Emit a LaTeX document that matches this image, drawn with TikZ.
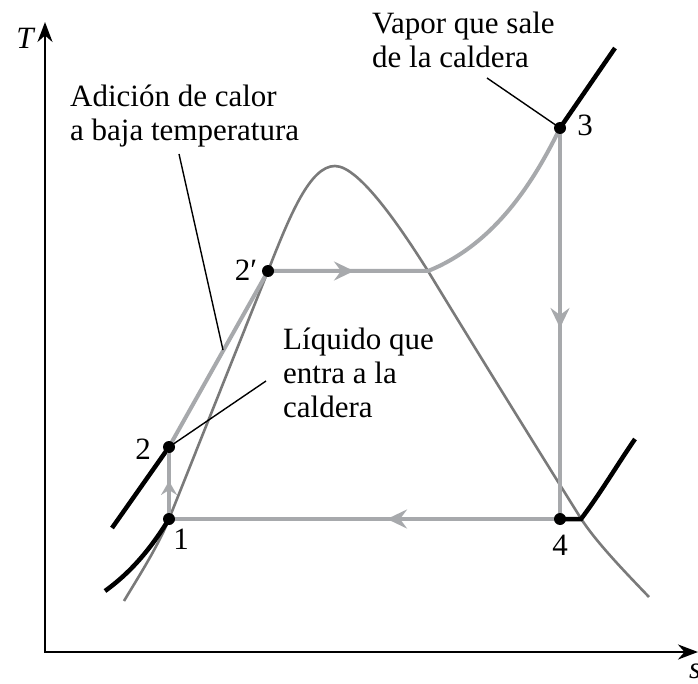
\documentclass[tikz,border=0pt]{standalone}
\usepackage{fontspec}
\setmainfont{Liberation Serif}
\usetikzlibrary{arrows.meta,decorations.markings}
\definecolor{domegray}{HTML}{7A7A7A}
\definecolor{procgray}{HTML}{A7A9AC}
\begin{document}
\begin{tikzpicture}[x=1pt,y=-1pt,
  domeline/.style={draw=domegray, line width=2.6pt},
  proc/.style={color=procgray, line width=4pt},
  isobar/.style={draw=black, line width=4.5pt},
  leader/.style={draw=black, line width=1.4pt},
  axisline/.style={draw=black, line width=2.6pt},
  dot/.style={circle, fill=black, inner sep=0pt, minimum size=12pt},
  lbl/.style={font=\fontsize{31}{34}\selectfont, inner sep=0pt},
  ilbl/.style={font=\fontsize{31}{34}\selectfont\itshape, inner sep=0pt},
  parrow/.style={decoration={markings, mark=at position #1 with {\arrow{Stealth[length=20pt,width=19pt,inset=7pt]}}}, postaction=decorate},
  sarrow/.style={decoration={markings, mark=at position #1 with {\arrow{Stealth[length=14pt,width=16pt,inset=5pt]}}}, postaction=decorate},
]
\useasboundingbox (0,0) rectangle (698,684);

% state points
\coordinate (c1) at (169,519);
\coordinate (c2) at (169,447);
\coordinate (c2p) at (268,271);
\coordinate (c3) at (560,128);
\coordinate (c4) at (560,519);
\coordinate (cx) at (428,271);

% axes
\coordinate (O) at (45,652);
\coordinate (ytop) at (45,22);
\coordinate (xend) at (698,652);
\draw[axisline, {Stealth[length=20pt,width=15pt]}-{Stealth[length=20pt,width=15pt]}] (ytop) -- (O) -- (xend);
\node[ilbl] (T) at (25,38) {T};
\node[ilbl, anchor=north west] (S) at (689,664) {s};

% saturation dome
\coordinate (d0) at (124,601);
\coordinate (dtop) at (335,166);
\coordinate (d5) at (580,517);
\coordinate (d6) at (649,597);
\draw[domeline] (d0) .. controls (134,584) and (158,547) .. (c1)
  -- (c2p) .. controls (290,215) and (310,166) .. (dtop)
  .. controls (360,166) and (404,233) .. (cx)
  .. controls (476,350) and (535,445) .. (d5)
  .. controls (595,541) and (625,572) .. (d6);

% isobars (black)
\coordinate (b3) at (615,48);
\draw[isobar] (c3) -- (b3);
\coordinate (b4a) at (581,519);
\coordinate (b4b) at (635,439);
\draw[isobar] (c4) -- (b4a) .. controls (600,494) and (619,462) .. (b4b);
\coordinate (b2) at (112,528);
\draw[isobar] (c2) -- (b2);
\coordinate (b1) at (105,591);
\draw[isobar] (c1) .. controls (150,550) and (130,573) .. (b1);

% process lines
\draw[proc, sarrow=38pt] (c1) -- (c2);
\draw[proc] (c2) -- (c2p);
\draw[proc, parrow=86pt] (c2p) -- (cx) .. controls (490,246) and (530,190) .. (c3);
\draw[proc, parrow=200pt] (c3) -- (c4);
\draw[proc, parrow=173pt] (c4) -- (c1);

% leaders
\coordinate (lA1) at (179,154);
\coordinate (lA2) at (223,350);
\draw[leader] (lA1) -- (lA2);
\coordinate (lB1) at (266,381);
\draw[leader] (lB1) -- (c2);
\coordinate (lC1) at (487,78);
\draw[leader] (lC1) -- (c3);

% dots
\node[dot] (p1) at (c1) {};
\node[dot] (p2) at (c2) {};
\node[dot] (p2p) at (c2p) {};
\node[dot] (p3) at (c3) {};
\node[dot] (p4) at (c4) {};

% point labels
\node[lbl] (n1) at (181,539) {1};
\node[lbl] (n2) at (143,449) {2};
\node[lbl] (n2p) at (246,270) {2′};
\node[lbl] (n3) at (585,125) {3};
\node[lbl] (n4) at (560,545) {4};

% callout texts (anchor = baseline of last line)
\node[lbl, anchor=base west, align=left] (tA) at (70,141) {Adición de calor\\a baja temperatura};
\node[lbl, anchor=base west, align=left] (tB) at (283,417) {Líquido que\\entra a la\\caldera};
\node[lbl, anchor=base west, align=left] (tC) at (372,68) {Vapor que sale\\de la caldera};
\end{tikzpicture}
\end{document}
